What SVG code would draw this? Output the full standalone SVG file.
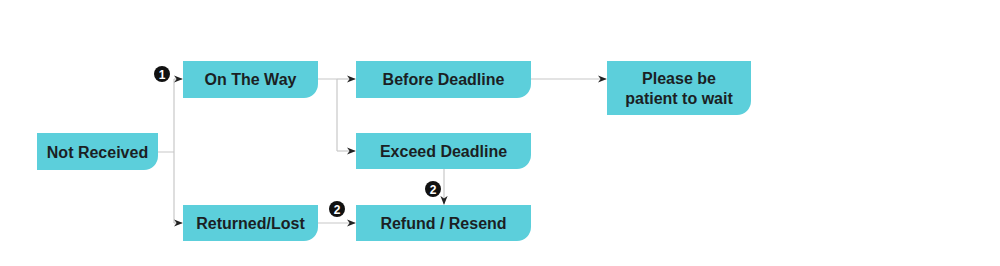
<svg xmlns="http://www.w3.org/2000/svg" width="1000" height="266" viewBox="0 0 1000 266">
<defs>
<marker id="arr" viewBox="0 0 10 10" refX="9" refY="5" markerWidth="9" markerHeight="9" markerUnits="userSpaceOnUse" orient="auto">
<path d="M0,1 L10,5 L0,9 L3,5 Z" fill="#222"/>
</marker>
</defs>
<style>
.box{fill:#5ccfdb}
.lbl{font-family:"Liberation Sans",Arial,sans-serif;font-weight:bold;font-size:16px;fill:#1b1f24;text-anchor:middle;dominant-baseline:central}
.ln{fill:none;stroke:#c8c8c8;stroke-width:1.2}
.ar{fill:none;stroke:#c8c8c8;stroke-width:1.2;marker-end:url(#arr)}
.bd{fill:#111}
.bn{font-family:"Liberation Sans",Arial,sans-serif;font-weight:bold;font-size:12px;fill:#fff;text-anchor:middle;dominant-baseline:central}
</style>
<rect width="1000" height="266" fill="#fff"/>
<g id="connectors">
<path class="ln" d="M158,152 H174 M174,79 V223 M318,79 H337 M337,79 V151"/>
<path class="ar" d="M174,79 H182"/>
<path class="ar" d="M174,223 H182"/>
<path class="ar" d="M337,79 H355"/>
<path class="ar" d="M337,151 H355"/>
<path class="ar" d="M531,79 H606"/>
<path class="ar" d="M444,169 V204"/>
<path class="ar" d="M318,223 H355"/>
</g>
<g id="badges">
<circle class="bd" cx="162" cy="74" r="8"/><text class="bn" x="162" y="74.5">1</text>
<circle class="bd" cx="337" cy="209" r="8"/><text class="bn" x="337" y="209.5">2</text>
<circle class="bd" cx="433" cy="189" r="8"/><text class="bn" x="433" y="189.5">2</text>
</g>
<g id="not-received">
<path class="box" d="M37,133 H158 V156 A14,14 0 0 1 144,170 H37 Z"/>
<text class="lbl" x="97.5" y="152">Not Received</text>
</g>
<g id="on-the-way">
<path class="box" d="M183,61 H318 V84 A14,14 0 0 1 304,98 H183 Z"/>
<text class="lbl" x="250.5" y="79.5">On The Way</text>
</g>
<g id="returned-lost">
<path class="box" d="M183,205 H318 V227 A14,14 0 0 1 304,241 H183 Z"/>
<text class="lbl" x="250.5" y="223">Returned/Lost</text>
</g>
<g id="before-deadline">
<path class="box" d="M356,61 H531 V84 A14,14 0 0 1 517,98 H356 Z"/>
<text class="lbl" x="443.5" y="79.5">Before Deadline</text>
</g>
<g id="exceed-deadline">
<path class="box" d="M356,133 H531 V155 A14,14 0 0 1 517,169 H356 Z"/>
<text class="lbl" x="443.5" y="151">Exceed Deadline</text>
</g>
<g id="refund-resend">
<path class="box" d="M356,205 H531 V227 A14,14 0 0 1 517,241 H356 Z"/>
<text class="lbl" x="443.5" y="223">Refund / Resend</text>
</g>
<g id="please-wait">
<path class="box" d="M607,61 H751 V101 A14,14 0 0 1 737,115 H607 Z"/>
<text class="lbl" x="679" y="78.5">Please be</text>
<text class="lbl" x="679" y="98">patient to wait</text>
</g>
</svg>
